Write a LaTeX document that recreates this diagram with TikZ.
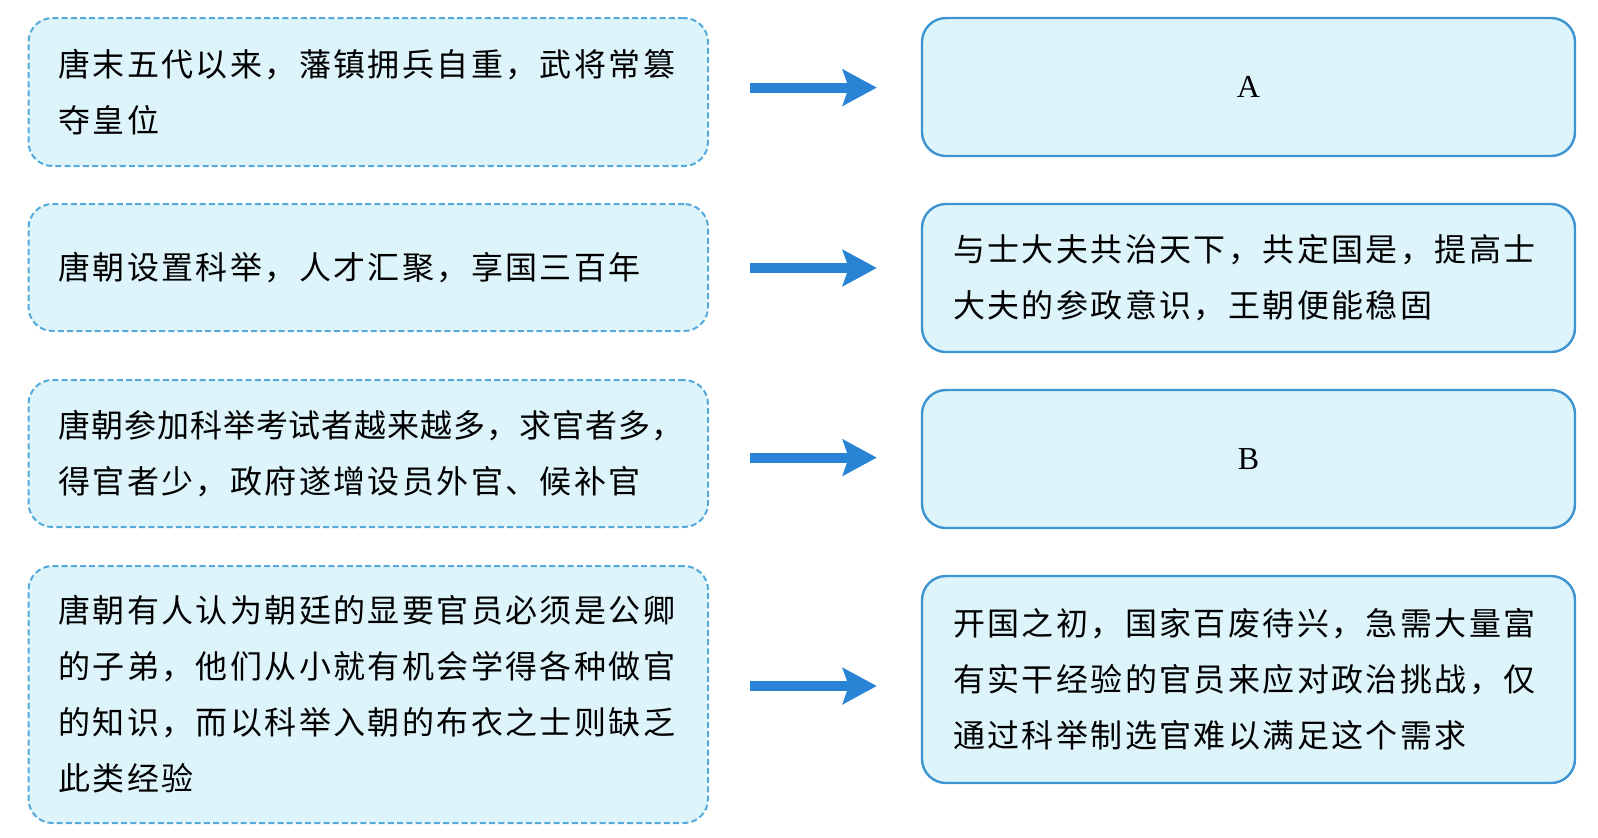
\documentclass[tikz,border=0pt]{standalone}
\usepackage{fontspec}
\setmainfont{Noto Sans CJK SC}[LetterSpace=7.5]
\newfontfamily\tightcjk{Noto Sans CJK SC}[LetterSpace=3]
\newfontfamily\latinserif{Liberation Serif}
\usetikzlibrary{arrows.meta}
\definecolor{boxfill}{HTML}{DDF4FB}
\definecolor{dashblue}{HTML}{55AADB}
\definecolor{solidblue}{HTML}{3D94D1}
\definecolor{arrowblue}{HTML}{2A84D6}
\tikzset{
  leftbox/.style={draw=dashblue, fill=boxfill, line width=1pt, dash pattern=on 3pt off 1.6pt,
    rounded corners=12pt, minimum width=339.75pt, text width=310pt, align=left, inner sep=0pt,
    font=\fontsize{16}{28}\selectfont},
  rightbox/.style={draw=solidblue, fill=boxfill, line width=1.2pt, rounded corners=12pt,
    minimum width=326.5pt, text width=295.5pt, align=left, inner sep=0pt,
    font=\fontsize{16}{28}\selectfont},
  letterbox/.style={rightbox, align=center, font=\latinserif\fontsize{16}{16}\selectfont},
  fatarrow/.style={draw=arrowblue, line width=5pt, line cap=butt,
    -{Stealth[length=17pt,width=18pt,inset=3pt]}}
}
\begin{document}
\begin{tikzpicture}[x=0.5pt,y=-0.5pt]
\useasboundingbox (0,0) rectangle (1598,837);
% left boxes
\node[leftbox, minimum height=74pt] (l1) at (368.25,92) {唐末五代以来，藩镇拥兵自重，武将常篡\\夺皇位};
\node[leftbox, minimum height=63.5pt] (l2) at (368.25,267.5) {唐朝设置科举，人才汇聚，享国三百年};
\node[leftbox, minimum height=73.5pt] (l3) at (368.25,453.5) {{\tightcjk 唐朝参加科举考试者越来越多，求官者多，}\\得官者少，政府遂增设员外官、候补官};
\node[leftbox, minimum height=128.5pt] (l4) at (368.25,694.5) {唐朝有人认为朝廷的显要官员必须是公卿\\的子弟，他们从小就有机会学得各种做官\\的知识，而以科举入朝的布衣之士则缺乏\\此类经验};
% right boxes
\node[letterbox, minimum height=69pt] (r1) at (1248.5,87) {A};
\node[rightbox, minimum height=74pt] (r2) at (1248.5,278) {与士大夫共治天下，共定国是，提高士\\大夫的参政意识，王朝便能稳固};
\node[letterbox, minimum height=69pt] (r3) at (1248.5,459) {B};
\node[rightbox, minimum height=103.5pt] (r4) at (1248.5,679.5) {开国之初，国家百废待兴，急需大量富\\有实干经验的官员来应对政治挑战，仅\\通过科举制选官难以满足这个需求};
% arrows
\draw[fatarrow] ([xshift=20.5pt]l1.east |- 0,87.6) -- ([xshift=-22pt]r1.west |- 0,87.6);
\draw[fatarrow] ([xshift=20.5pt]l2.east |- 0,268) -- ([xshift=-22pt]r2.west |- 0,268);
\draw[fatarrow] ([xshift=20.5pt]l3.east |- 0,457.6) -- ([xshift=-22pt]r3.west |- 0,457.6);
\draw[fatarrow] ([xshift=20.5pt]l4.east |- 0,686) -- ([xshift=-22pt]r4.west |- 0,686);
\end{tikzpicture}
\end{document}
